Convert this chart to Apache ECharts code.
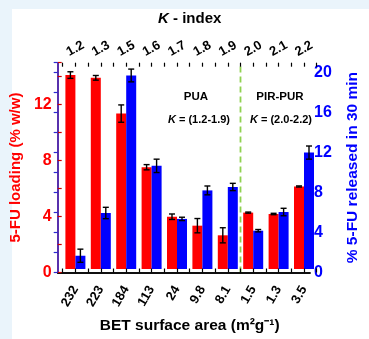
<!DOCTYPE html>
<html>
<head>
<meta charset="utf-8">
<script src="https://cdn.jsdelivr.net/npm/echarts@6/dist/echarts.min.js"></script>
<style>
html,body{margin:0;padding:0;background:#EAF4FB;}
#c{width:369px;height:339px;}
</style>
</head>
<body>
<div id="c"></div>
<script>
// ---- data ----
const betArea = ['232','223','184','113','24','9.8','8.1','1.5','1.3','3.5'];
const kIndex = ['1.2','1.3','1.5','1.6','1.7','1.8','1.9','2.0','2.1','2.2'];
const loading = [14.1, 13.9, 11.3, 7.4, 3.8, 3.15, 2.45, 4.1, 4.0, 6.0];
const loadingErr = [0.24, 0.17, 0.63, 0.19, 0.2, 0.52, 0.55, 0.04, 0.05, 0.04];
const release = [1.35, 5.7, 19.7, 10.5, 5.1, 8.0, 8.35, 3.9, 5.8, 11.85];
const releaseErr = [0.67, 0.58, 0.65, 0.68, 0.17, 0.45, 0.37, 0.12, 0.38, 0.67];
const groupsPUA = 7; // PUA samples before the divider

// ---- layout / style ----
const FONT = '"Liberation Sans", Arial, Helvetica, sans-serif';
const RED = '#FF0000', BLUE = '#0000FF', BLUE_AX = '#2B2BD0';
const BAR_W = 10;
const plotTop = 62.7, plotH = 209.8;
const frame = {left: 57.5, top: plotTop, width: 264, height: plotH};
const inner = {left: 62.7, top: plotTop, width: 254, height: plotH};

function errRenderer(sign) {
  return function (params, api) {
    const i = api.value(0), v = api.value(1), e = api.value(2);
    const hi = api.coord([i, v + e]);
    const lo = api.coord([i, v - e]);
    const x = hi[0] + sign * BAR_W / 2;
    const st = {stroke: '#000', lineWidth: 1.4};
    const cap = 3;
    return {type: 'group', children: [
      {type: 'line', shape: {x1: x, y1: hi[1], x2: x, y2: lo[1]}, style: st},
      {type: 'line', shape: {x1: x - cap, y1: hi[1], x2: x + cap, y2: hi[1]}, style: st},
      {type: 'line', shape: {x1: x - cap, y1: lo[1], x2: x + cap, y2: lo[1]}, style: st}
    ]};
  };
}

const chart = echarts.init(document.getElementById('c'), null, {renderer: 'canvas'});
const hiddenAxis = {show: false};
const tickAxis = (pos) => ({
  gridIndex: 2, type: 'value', position: pos, min: 0, max: betArea.length * 2, interval: 1,
  axisLine: {show: false}, splitLine: {show: false}, axisLabel: {show: false},
  axisTick: {show: true, inside: true, length: 4, lineStyle: {color: '#000', width: 1.2}}, z: 6
});
const italicK = (size) => ({i: {fontStyle: 'italic', fontWeight: 'bold', fontSize: size, fontFamily: FONT, color: '#000'}});

chart.setOption({
  backgroundColor: 'transparent',
  animation: false,
  textStyle: {fontFamily: FONT},
  graphic: [
    {type: 'rect', z: -100, shape: {x: 12, y: 9, width: 360, height: 335}, style: {fill: '#FFFFFF'}},
    {type: 'text', x: 196, y: 97, style: {text: 'PUA', align: 'center', verticalAlign: 'middle', font: 'bold 11.5px ' + FONT, fill: '#000'}},
    {type: 'text', x: 199, y: 120, style: {text: '{i|K} = (1.2-1.9)', align: 'center', verticalAlign: 'middle', font: 'bold 11px ' + FONT, fill: '#000', rich: italicK(11)}},
    {type: 'text', x: 280, y: 97, style: {text: 'PIR-PUR', align: 'center', verticalAlign: 'middle', font: 'bold 11.5px ' + FONT, fill: '#000'}},
    {type: 'text', x: 281, y: 120, style: {text: '{i|K} = (2.0-2.2)', align: 'center', verticalAlign: 'middle', font: 'bold 11px ' + FONT, fill: '#000', rich: italicK(11)}}
  ],
  grid: [
    Object.assign({containLabel: false}, frame),
    Object.assign({containLabel: false}, inner),
    Object.assign({containLabel: false}, inner)
  ],
  xAxis: [
    {gridIndex: 0, type: 'value', position: 'bottom', min: 0, max: 1, z: 5,
      axisLine: {show: true, lineStyle: {color: '#000', width: 1.5}}, axisTick: {show: false}, axisLabel: {show: false}, splitLine: {show: false}},
    {gridIndex: 0, type: 'value', position: 'top', min: 0, max: 1, z: 5,
      axisLine: {show: true, lineStyle: {color: '#000', width: 1.5}}, axisTick: {show: false}, axisLabel: {show: false}, splitLine: {show: false}},
    {gridIndex: 1, type: 'category', position: 'bottom', data: betArea,
      axisLine: {show: false}, axisTick: {show: false}, splitLine: {show: false},
      axisLabel: {rotate: 60, margin: 18, color: '#000', fontWeight: 'bold', fontSize: 13, fontFamily: FONT, interval: 0},
      name: 'BET surface area (m²g⁻¹)', nameLocation: 'middle', nameGap: 49,
      nameTextStyle: {color: '#000', fontWeight: 'bold', fontSize: 15.5, fontFamily: FONT}},
    {gridIndex: 1, type: 'category', position: 'top', data: kIndex,
      axisLine: {show: false}, axisTick: {show: false}, splitLine: {show: false},
      axisLabel: {rotate: 30, margin: 14, align: 'center', verticalAlign: 'middle', color: '#000', fontWeight: 'bold', fontSize: 13, fontFamily: FONT, interval: 0},
      name: '{i|K} - index', nameLocation: 'middle', nameGap: 36,
      nameTextStyle: {color: '#000', fontWeight: 'bold', fontSize: 15, fontFamily: FONT, rich: italicK(15)}},
    tickAxis('bottom'),
    tickAxis('top')
  ],
  yAxis: [
    {gridIndex: 0, type: 'value', position: 'left', min: 0, max: 15, interval: 2, z: 5,
      axisLine: {show: true, lineStyle: {color: '#CC0000', width: 1.5}},
      axisTick: {show: true, inside: true, length: 4, lineStyle: {color: '#CC0000', width: 1.2}},
      splitLine: {show: false},
      axisLabel: {margin: 6, color: RED, fontWeight: 'bold', fontSize: 16, fontFamily: FONT,
        formatter: v => (v % 4 === 0 ? String(v) : '')},
      name: '5-FU loading (% w/w)', nameLocation: 'middle', nameGap: 27, nameRotate: 90,
      nameTextStyle: {color: RED, fontWeight: 'bold', fontSize: 15, fontFamily: FONT}},
    {gridIndex: 0, type: 'value', position: 'right', min: 0, max: 21, interval: 2, z: 5,
      axisLine: {show: true, lineStyle: {color: BLUE_AX, width: 1.5}},
      axisTick: {show: true, inside: true, length: 4, lineStyle: {color: BLUE_AX, width: 1.2}},
      splitLine: {show: false},
      axisLabel: {margin: 4, color: BLUE, fontWeight: 'bold', fontSize: 16, fontFamily: FONT,
        formatter: v => (v % 4 === 0 ? String(v) : '')},
      name: '% 5-FU released in 30 min', nameLocation: 'middle', nameGap: 35, nameRotate: 90,
      nameTextStyle: {color: BLUE, fontWeight: 'bold', fontSize: 15.5, fontFamily: FONT}},
    Object.assign({gridIndex: 1, type: 'value', min: 0, max: 15, position: 'left'}, hiddenAxis),
    Object.assign({gridIndex: 1, type: 'value', min: 0, max: 21, position: 'right'}, hiddenAxis),
    Object.assign({gridIndex: 2, type: 'value', min: 0, max: 1}, hiddenAxis)
  ],
  series: [
    {type: 'bar', name: 'loading', xAxisIndex: 2, yAxisIndex: 2, data: loading,
      barWidth: BAR_W, barGap: '0%', itemStyle: {color: RED}},
    {type: 'bar', name: 'release', xAxisIndex: 2, yAxisIndex: 3, data: release,
      barWidth: BAR_W, barGap: '0%', itemStyle: {color: BLUE}},
    {type: 'custom', xAxisIndex: 2, yAxisIndex: 2, z: 4,
      data: loading.map((v, i) => [i, v, loadingErr[i]]), renderItem: errRenderer(-1)},
    {type: 'custom', xAxisIndex: 2, yAxisIndex: 3, z: 4,
      data: release.map((v, i) => [i, v, releaseErr[i]]), renderItem: errRenderer(1)},
    {type: 'line', xAxisIndex: 4, yAxisIndex: 4, z: 3, showSymbol: false, symbol: 'none',
      data: [[groupsPUA * 2, 0], [groupsPUA * 2, 1]],
      lineStyle: {color: '#8FD14F', width: 1.8, type: [6, 4]}}
  ]
});
</script>
</body>
</html>
